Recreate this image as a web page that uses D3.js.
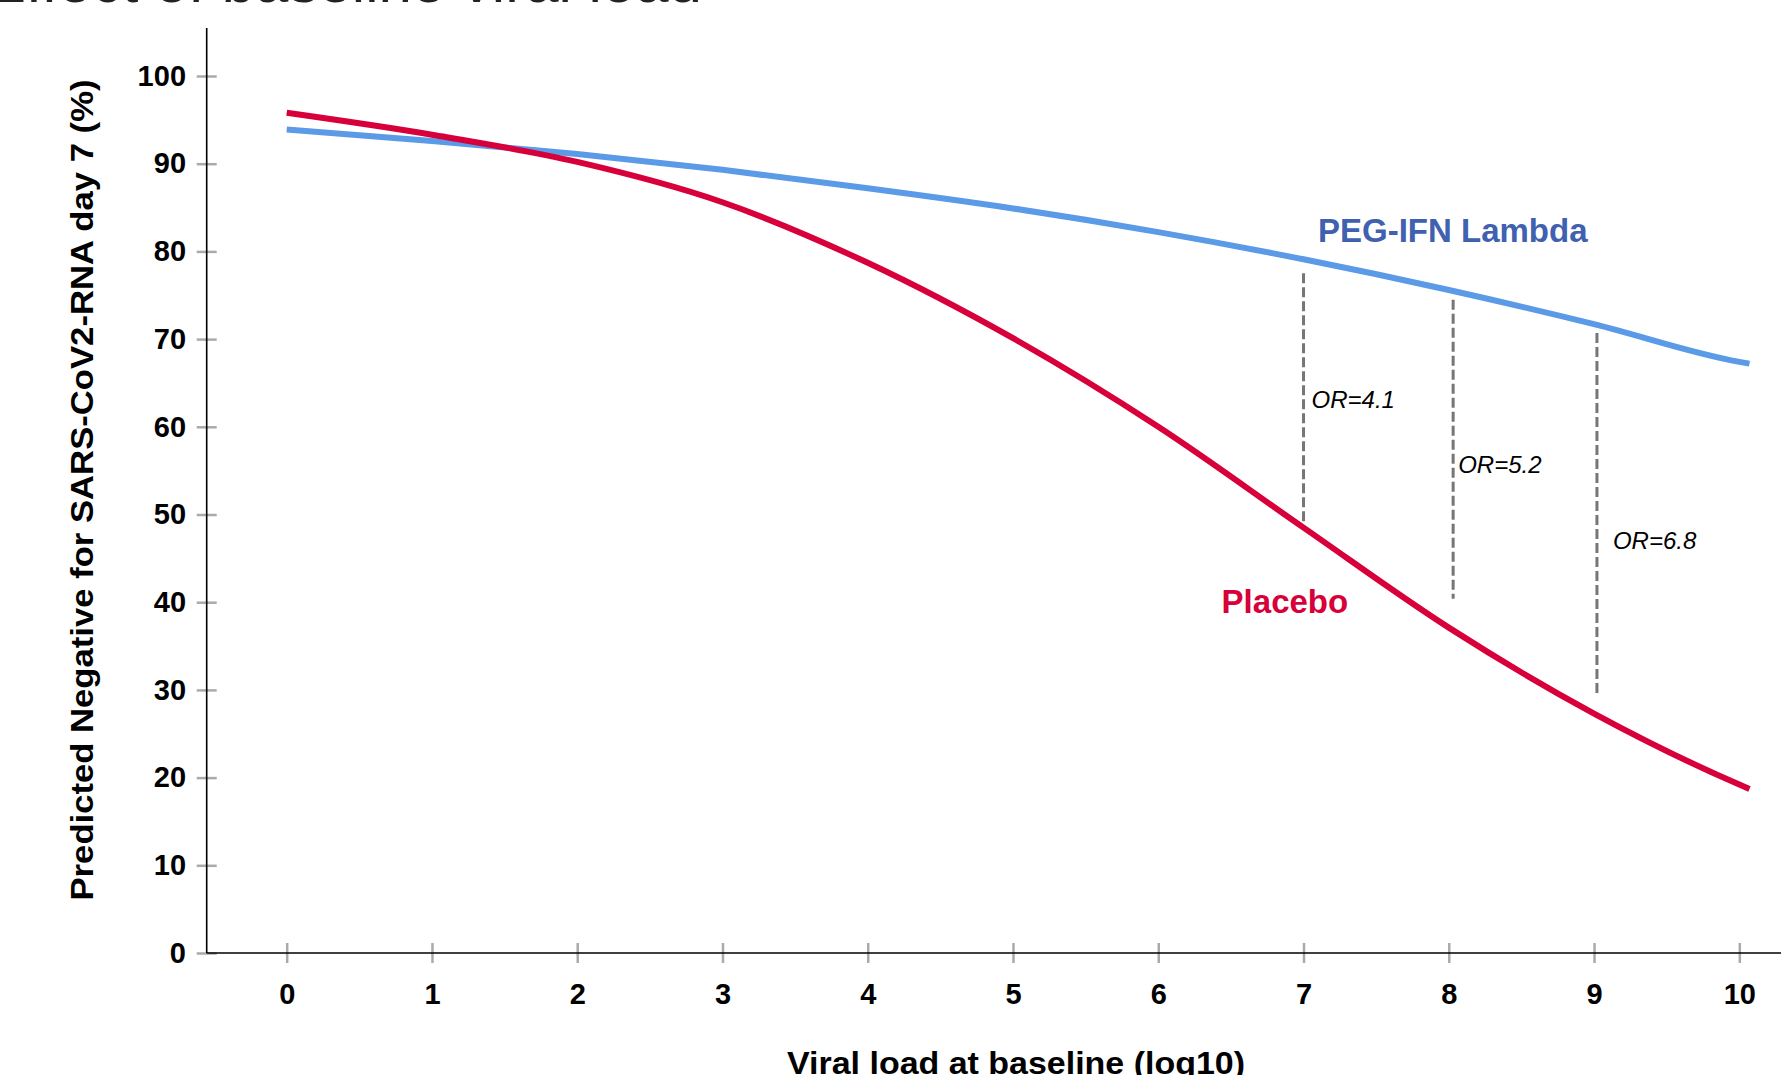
<!DOCTYPE html>
<html>
<head>
<meta charset="utf-8">
<title>Predicted negative by baseline viral load</title>
<script src="https://cdn.jsdelivr.net/npm/d3@7"></script>
<style>
  body { margin: 0; background: #fff; }
  text { font-family: "Liberation Sans", Arial, sans-serif; }
</style>
</head>
<body>
<svg id="chart" width="1781" height="1075"></svg>
<script>
// values
var viralLoad = [0, 1, 2, 3, 4, 5, 6, 7, 8, 9, 10, 10.07];
var placebo   = [95.8, 93.3, 90.2, 85.6, 78.7, 70.1, 60.0, 48.5, 37.1, 27.3, 19.2, 18.7];
var pegIfn    = [93.9, 92.6, 91.1, 89.3, 87.2, 84.9, 82.2, 79.1, 75.6, 71.7, 67.4, 67.2];

var xTicks = [0, 1, 2, 3, 4, 5, 6, 7, 8, 9, 10];
var yTicks = [0, 10, 20, 30, 40, 50, 60, 70, 80, 90, 100];

// odds ratio markers
var orLabels = ["OR=4.1", "OR=5.2", "OR=6.8"];
var orAt     = [7, 8.03, 9.02];
var orTop    = [77.5, 74.5, 70.7];
var orBottom = [49.0, 40.4, 29.2];
var orTextY  = [62.1, 54.7, 46.1];
var orTextDx = [8, 5, 16];

var svg = d3.select("#chart");

var x = d3.scaleLinear().domain([0, 10]).range([286.7, 1739.3]);
var y = d3.scaleLinear().domain([0, 100]).range([953, 76]);

var axisX = 206.7, axisY = 953;

// cut-off heading at the very top
svg.append("text")
  .attr("x", -14).attr("y", 1.5)
  .attr("font-size", 60)
  .attr("fill", "#222")
  .text("Effect of baseline viral load");

// y axis ticks (gray, across the axis line)
var gy = svg.append("g")
  .attr("transform", "translate(" + (axisX + 10) + ",0)")
  .call(d3.axisLeft(y).tickValues(yTicks).tickSize(20).tickPadding(10.7));
gy.select(".domain").remove();
gy.selectAll(".tick line").attr("stroke", "#aaa").attr("stroke-width", 2.5);
gy.selectAll(".tick text")
  .attr("font-size", 29).attr("font-weight", "bold")
  .attr("font-family", "Liberation Sans, Arial, sans-serif")
  .attr("fill", "#000");

// x axis ticks
var gx = svg.append("g")
  .attr("transform", "translate(0," + (axisY - 10) + ")")
  .call(d3.axisBottom(x).tickValues(xTicks).tickSize(20).tickPadding(20));
gx.select(".domain").remove();
gx.selectAll(".tick line").attr("stroke", "#aaa").attr("stroke-width", 2.5);
gx.selectAll(".tick text")
  .attr("font-size", 29).attr("font-weight", "bold")
  .attr("font-family", "Liberation Sans, Arial, sans-serif")
  .attr("fill", "#000");

// axis lines
svg.append("line")
  .attr("x1", axisX).attr("x2", axisX).attr("y1", 28).attr("y2", axisY)
  .attr("stroke", "#000").attr("stroke-width", 1.6);
svg.append("line")
  .attr("x1", axisX).attr("x2", 1781).attr("y1", axisY).attr("y2", axisY)
  .attr("stroke", "#000").attr("stroke-width", 1.6);

// axis titles
svg.append("text")
  .attr("transform", "translate(93,490) rotate(-90)")
  .attr("text-anchor", "middle")
  .attr("font-size", 32).attr("font-weight", "bold")
  .attr("textLength", 821).attr("lengthAdjust", "spacingAndGlyphs")
  .text("Predicted Negative for SARS-CoV2-RNA day 7 (%)");

svg.append("text")
  .attr("x", 1016).attr("y", 1074)
  .attr("text-anchor", "middle")
  .attr("font-size", 32).attr("font-weight", "bold")
  .attr("textLength", 458).attr("lengthAdjust", "spacingAndGlyphs")
  .text("Viral load at baseline (log10)");

// dashed OR lines
orAt.forEach(function (v, i) {
  svg.append("line")
    .attr("x1", x(v)).attr("x2", x(v))
    .attr("y1", y(orTop[i])).attr("y2", y(orBottom[i]))
    .attr("stroke", "#767676").attr("stroke-width", 3)
    .attr("stroke-dasharray", "10,4");
  svg.append("text")
    .attr("x", x(v) + orTextDx[i]).attr("y", y(orTextY[i]))
    .attr("font-family", "Open Sans, sans-serif")
    .attr("font-style", "italic")
    .attr("font-size", 24)
    .attr("fill", "#000")
    .text(orLabels[i]);
});

// curves
var line = d3.line().curve(d3.curveMonotoneX);
function pts(vals) {
  return viralLoad.map(function (v, i) { return [x(v), y(vals[i])]; });
}

svg.append("path")
  .attr("d", line(pts(pegIfn)))
  .attr("fill", "none").attr("stroke", "#5a9ae6").attr("stroke-width", 6);

svg.append("path")
  .attr("d", line(pts(placebo)))
  .attr("fill", "none").attr("stroke", "#d7003a").attr("stroke-width", 6);

// series labels
svg.append("text")
  .attr("x", 1318).attr("y", 241.7)
  .attr("font-size", 33).attr("font-weight", "bold")
  .attr("fill", "#4060b0")
  .text("PEG-IFN Lambda");

svg.append("text")
  .attr("x", 1221.6).attr("y", 612.7)
  .attr("font-size", 33).attr("font-weight", "bold")
  .attr("fill", "#d7003a")
  .text("Placebo");
</script>
</body>
</html>
